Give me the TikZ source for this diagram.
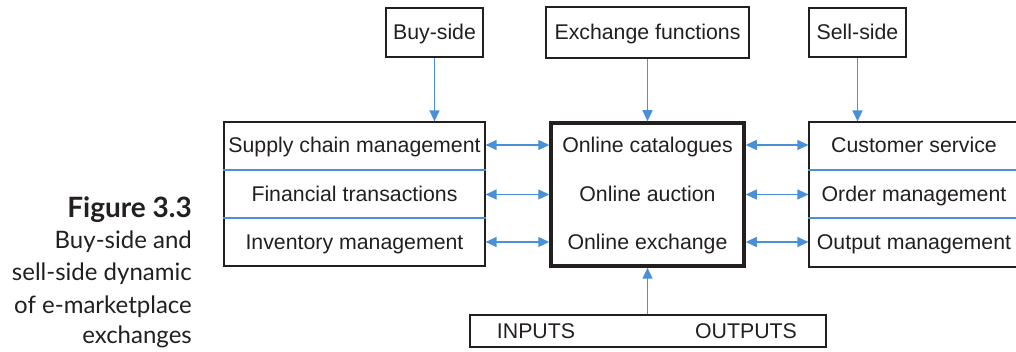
\documentclass[tikz,border=0pt]{standalone}
\usepackage{fontspec}
\setmainfont{Liberation Sans}
\newfontfamily\capfont{Lato}
\usetikzlibrary{arrows.meta}
\definecolor{arrblue}{RGB}{74,144,217}
\definecolor{ink}{RGB}{35,31,32}
\tikzset{
  box/.style={draw=ink, line width=1.2pt, inner sep=0pt, text=ink, text height=15pt, text depth=0pt, font=\fontsize{21.3}{25}\selectfont},
  rowtext/.style={inner sep=0pt, text=ink, text height=15pt, text depth=0pt, font=\fontsize{21.3}{25}\selectfont},
  tip/.style={Triangle[length=11pt,width=10pt]},
  arr/.style={draw=arrblue, line width=1.3pt, -{Triangle[length=11pt,width=10pt]}},
  darr/.style={draw=arrblue, line width=1.3pt, {Triangle[length=11pt,width=10pt]}-{Triangle[length=11pt,width=10pt]}},
  divider/.style={draw=arrblue, line width=1.3pt},
  captext/.style={inner sep=0pt, anchor=base east, text=ink, font=\capfont\fontsize{24}{28}\selectfont}
}
\begin{document}
\begin{tikzpicture}[x=1pt,y=-1pt]
\useasboundingbox (0,0) rectangle (1016,352);
% top boxes
\node[box, minimum width=97pt, minimum height=49pt] (buy) at (434.5,32.5) {Buy-side};
\node[box, minimum width=203pt, minimum height=51pt] (exch) at (647.5,32.5) {Exchange functions};
\node[box, minimum width=97pt, minimum height=49pt] (sell) at (857.5,32.5) {Sell-side};
% left box
\node[box, minimum width=261pt, minimum height=144pt] (lbox) at (354.5,194) {};
\node[rowtext] (l1) at (354.5,145.5) {Supply chain management};
\node[rowtext] (l2) at (354.5,194) {Financial transactions};
\node[rowtext] (l3) at (354.5,242) {Inventory management};
\draw[divider] (lbox.west |- 0,170) -- (lbox.east |- 0,170);
\draw[divider] (lbox.west |- 0,218) -- (lbox.east |- 0,218);
% centre box
\node[box, line width=3.5pt, minimum width=193pt, minimum height=143pt] (cbox) at (647.5,194.5) {};
\node[rowtext] (c1) at (647.5,145) {Online catalogues};
\node[rowtext] (c2) at (647.5,194.5) {Online auction};
\node[rowtext] (c3) at (647.5,242) {Online exchange};
% right box
\node[box, minimum width=210pt, minimum height=145pt] (rbox) at (914,194.5) {};
\node[rowtext] (r1) at (914,145) {Customer service};
\node[rowtext] (r2) at (914,194.5) {Order management};
\node[rowtext] (r3) at (914,242) {Output management};
\draw[divider] (rbox.west |- 0,170) -- (rbox.east |- 0,170);
\draw[divider] (rbox.west |- 0,218) -- (rbox.east |- 0,218);
% bottom box
\node[box, minimum width=356pt, minimum height=32pt] (io) at (648,331) {};
\node[rowtext] (inp) at (536,331) {INPUTS};
\node[rowtext] (outp) at (746,331) {OUTPUTS};
% vertical arrows
\draw[arr] (buy.south) -- (buy.south |- lbox.north);
\draw[arr] (exch.south) -- (exch.south |- cbox.north);
\draw[arr] (sell.south) -- (sell.south |- rbox.north);
\draw[arr] (io.north -| cbox.south) -- (cbox.south);
% horizontal arrows
\foreach \i in {1,2,3}{
  \draw[darr] (lbox.east |- c\i) -- (cbox.west |- c\i);
  \draw[darr] (cbox.east |- c\i) -- (rbox.west |- c\i);
}
% caption
\node[captext, font=\capfont\bfseries\fontsize{28}{32}\selectfont] (fig) at (192,218) {Figure 3.3};
\node[captext] (cap1) at (192,249) {Buy-side and};
\node[captext] (cap2) at (192,281) {sell-side dynamic};
\node[captext] (cap3) at (192,313) {of e-marketplace};
\node[captext] (cap4) at (192,343) {exchanges};
\end{tikzpicture}
\end{document}
